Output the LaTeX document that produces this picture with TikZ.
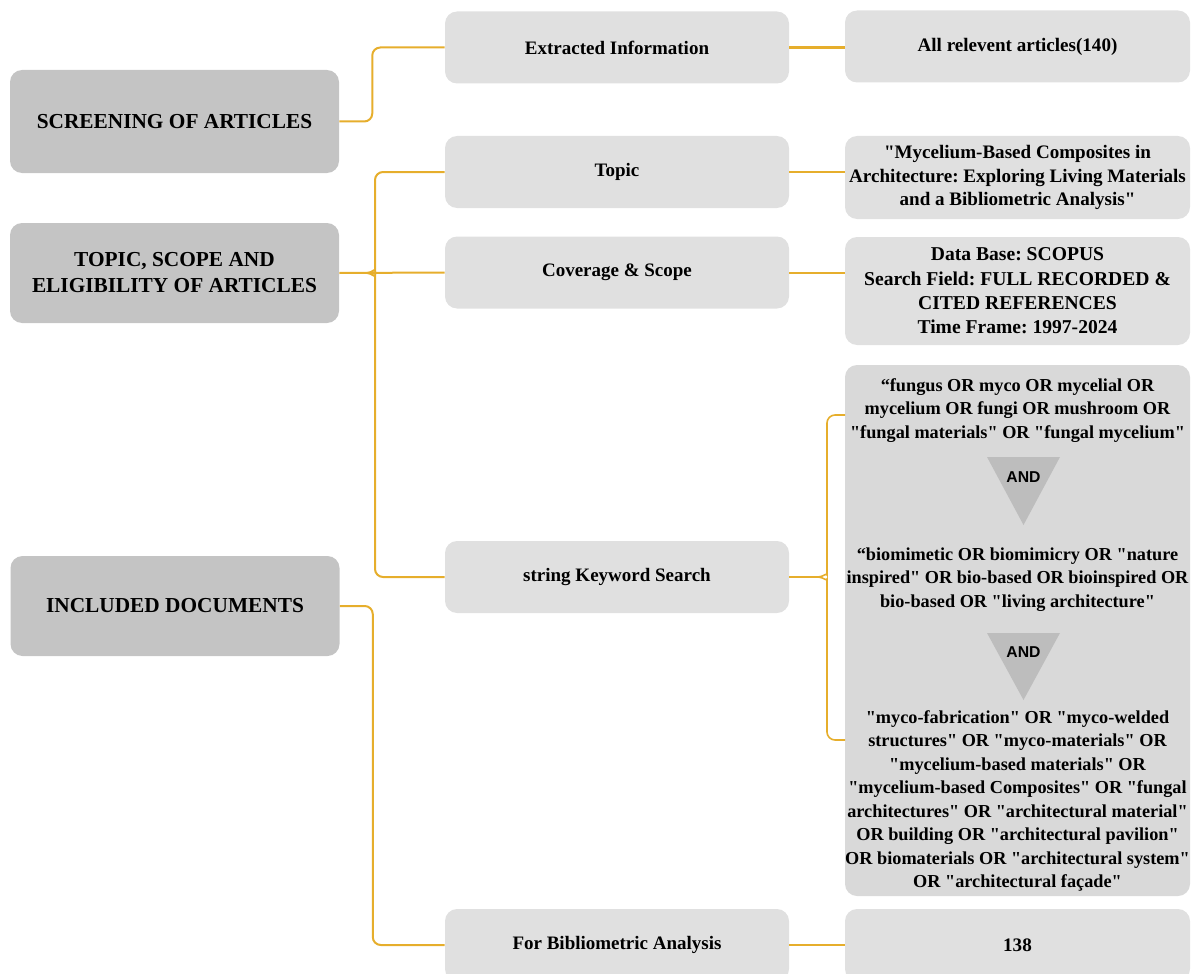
\documentclass[tikz,border=0pt]{standalone}
\usepackage{fontspec}
\setmainfont{Liberation Serif}[Ligatures=TeXOff]
\newfontfamily\andfont{Liberation Sans}
\usetikzlibrary{positioning,calc}
\definecolor{mbgold}{HTML}{E6AE2C}
\definecolor{mbdark}{HTML}{C4C4C4}
\definecolor{mblight}{HTML}{E0E0E0}
\definecolor{mbkey}{HTML}{D9D9D9}
\definecolor{mbtri}{HTML}{BDBDBD}

\begin{document}
\frenchspacing
\begin{tikzpicture}[x=0.75pt,y=-0.75pt,
  head/.style={fill=mbdark,rounded corners=9pt,minimum width=246.75pt,minimum height=75pt,inner sep=0pt,align=center,font=\fontsize{16}{19.5}\selectfont\bfseries},
  stage/.style={fill=mblight,rounded corners=9pt,minimum width=258pt,minimum height=54pt,inner sep=0pt,align=center,font=\fontsize{14.25}{17}\selectfont\bfseries},
  info/.style={fill=mblight,rounded corners=9pt,minimum width=258.75pt,minimum height=54pt,inner sep=0pt,align=center,font=\fontsize{14.3}{17.9}\selectfont\bfseries},
  query/.style={align=center,inner sep=0pt,font=\fontsize{13.7}{17.6}\selectfont\bfseries},
  andtri/.style={fill=mbtri},
  andlbl/.style={font=\andfont\fontsize{11.8}{14}\selectfont\bfseries},
  link/.style={draw=mbgold,line width=1.5pt,rounded corners=6pt}]
\useasboundingbox (0,0) rectangle (1193,974);

% left column
\node[head,minimum height=77.25pt] (scr) at (174.5,121.5) {SCREENING OF ARTICLES};
\node[head] (tse) at (174.5,273) {TOPIC, SCOPE AND\\ELIGIBILITY OF ARTICLES};
\node[head] (inc) at (175,606) {INCLUDED DOCUMENTS};

% middle column
\node[stage] (ext) at (617,47.5) {Extracted Information};
\node[stage] (top) at (617,172) {Topic};
\node[stage] (cov) at (617,272.5) {Coverage \& Scope};
\node[stage] (kws) at (617,577) {string Keyword Search};
\node[stage] (bib) at (617,945) {For Bibliometric Analysis};

% right column
\node[info] (all) at (1017.5,46.5) {All relevent articles(140)};
\node[info,minimum height=62.25pt] (myc) at (1017.5,177.5) {"Mycelium-Based Composites in\\Architecture: Exploring Living Materials\\and a Bibliometric Analysis"};
\node[info,minimum height=81pt,font=\fontsize{14.7}{18.2}\selectfont\bfseries] (dbs) at (1017.5,291) {Data Base: SCOPUS\\Search Field: FULL RECORDED \&\\CITED REFERENCES\\Time Frame: 1997-2024};
\node[info,fill=mbkey,minimum height=398.25pt] (kwb) at (1017.5,630.5) {};
\node[info] (n138) at (1017.5,945) {138};

% keyword strings
\node[query] (k1) at (1017.5,410.5) {“fungus OR myco OR mycelial OR\\mycelium OR fungi OR mushroom OR\\"fungal materials" OR "fungal mycelium"};
\fill[andtri] (987,457) -- (1060,457) -- (1023.5,525) -- cycle;
\node[andlbl] (a1) at (1023.5,477) {AND};
\node[query] (k2) at (1017.5,579.5) {“biomimetic OR biomimicry OR "nature\\inspired" OR bio-based OR bioinspired OR\\bio-based OR "living architecture"};
\fill[andtri] (987,633) -- (1060,633) -- (1023.5,700) -- cycle;
\node[andlbl] (a2) at (1023.5,652) {AND};
\node[query] (k3) at (1017.5,801) {"myco-fabrication" OR "myco-welded\\structures" OR "myco-materials" OR\\"mycelium-based materials" OR\\"mycelium-based Composites" OR "fungal\\architectures" OR "architectural material"\\OR building OR "architectural pavilion"\\OR biomaterials OR "architectural system"\\OR "architectural façade"};

% connectors
\coordinate (ttip) at (367,273);
\coordinate (ktip) at (818,577);
\coordinate (kup) at (845,415);
\coordinate (kdn) at (845,740);
\draw[link] (scr.east) -- ++(33,0) |- (ext.west);
\draw[link] (tse.east) -- (cov.west);
\draw[link] (ttip) to[out=0,in=-90] ++(8,-10) |- (top.west);
\draw[link] (ttip) to[out=0,in=90] ++(8,10) |- (kws.west);
\draw[link] (inc.east) -- ++(33,0) |- (bib.west);
\draw[link,line width=2.5pt] (ext.east) -- (ext.east -| all.west);
\draw[link] (top.east) -- (top.east -| myc.west);
\draw[link] (cov.east) -- (cov.east -| dbs.west);
\draw[link,line width=1.2pt] (kws.east) -- (ktip);
\draw[link,line width=1.2pt] (ktip) to[out=0,in=-90] ++(9,-10) |- (kup);
\draw[link,line width=1.2pt] (ktip) to[out=0,in=90] ++(9,10) |- (kdn);
\draw[link] (bib.east) -- (n138.west);
\end{tikzpicture}
\end{document}
